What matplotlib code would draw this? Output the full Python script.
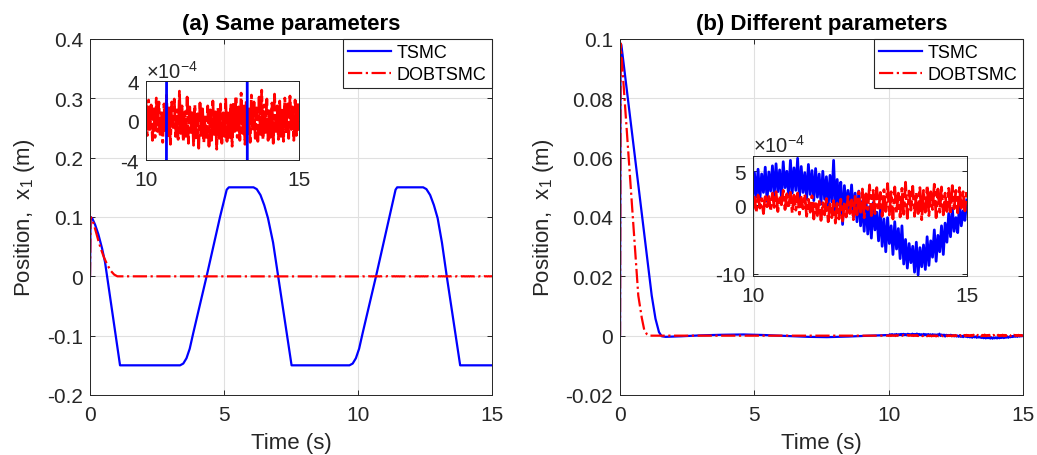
import matplotlib.pyplot as plt
import numpy as np

plt.rcParams['font.family'] = ['Liberation Sans', 'DejaVu Sans']
plt.rcParams['mathtext.fontset'] = 'custom'
plt.rcParams['mathtext.rm'] = 'Liberation Sans'
plt.rcParams['mathtext.it'] = 'Liberation Sans:italic'
plt.rcParams['mathtext.bf'] = 'Liberation Sans:bold'

# ---- (a) same parameters ----
t_tsmc_a = [0, 0.02, 0.08, 0.19, 0.31, 0.45, 0.56, 1.12,
            3.36, 3.48, 3.60, 3.72, 3.85, 4.35, 4.85, 5.10, 5.18,
            6.10, 6.22, 6.36, 6.50, 6.64, 6.83, 7.02, 7.52,
            9.68, 9.80, 9.92, 10.04, 10.17, 10.67, 11.17, 11.40, 11.46,
            12.43, 12.55, 12.69, 12.83, 12.97, 13.13, 13.31, 13.81, 15.0]
x_tsmc_a = [0, 0.100, 0.098, 0.087, 0.071, 0.047, 0.024, -0.150,
            -0.150, -0.147, -0.138, -0.122, -0.096, 0.0, 0.100, 0.146, 0.150,
            0.150, 0.147, 0.137, 0.120, 0.098, 0.057, 0.0, -0.150,
            -0.150, -0.147, -0.138, -0.122, -0.096, 0.0, 0.100, 0.146, 0.150,
            0.150, 0.147, 0.137, 0.120, 0.098, 0.057, 0.0, -0.150, -0.150]

t_dob_a = [0, 0.02, 0.08, 0.19, 0.30, 0.40, 0.52, 0.65, 0.78, 0.90, 1.02, 9.98]
x_dob_a = [0, 0.100, 0.097, 0.080, 0.062, 0.047, 0.032, 0.019, 0.009, 0.003, 0.0, 0.0]

# DOBTSMC residual between 10 s and 15 s (units of 1e-4 m)
dob_a_zoom = [1.8, -1.5, 2.1, -0.9, 1.6, -2.0, 1.2, -1.7, 2.3, -1.1, 1.9, -1.4,
              0.8, -2.2, 1.7, -1.0, 2.6, -1.8, 1.3, -2.4, 1.9, -0.7, 2.2, -1.6,
              1.1, -1.9, 3.0, -1.3, 1.5, -2.1, 0.9, -1.6, 2.4, -2.3, 1.4, -1.2,
              1.0, -2.5, 1.6, -1.9, 0.7, -2.8, 1.8, -1.5, 1.2, -2.2, 0.6, -1.7,
              1.5, -2.6, 1.1, -2.0, 2.0, -1.4, 0.9, -2.9, 1.3, -1.8, 1.7, -2.3,
              0.8, -1.6, 2.2, -2.1, 1.0, -1.9, 1.6, -2.6, 1.9, -1.1, 2.5, -1.7,
              1.4, -2.0, 2.8, -1.3, 1.7, -2.4, 2.1, -1.5, 1.2, -2.2, 2.6, -1.0,
              1.9, -1.8, 1.3, -2.1, 2.4, -1.4, 3.1, -1.9, 1.6, -1.2, 2.2, -2.0,
              1.0, -1.7, 1.8, -2.3, 2.7, -1.1, 1.5, -1.9, 2.0, -1.6, 1.2, -2.1,
              2.3, -1.3, 1.7, -1.8, 2.5, -0.9, 1.4, -2.0, 2.1, -1.5, 1.8, -1.2]

# ---- (b) different parameters ----
t_tsmc_b = [0, 0.02, 0.05, 1.18, 1.32, 1.45, 1.55, 1.70, 2.3, 3.0, 3.8, 4.6,
            5.4, 6.2, 7.0, 7.7, 8.5, 9.3, 9.95]
x_tsmc_b = [0, 0.0985, 0.098, 0.0135, 0.0057, 0.0012, -0.0002, -0.0004, -0.0002,
            0.0001, 0.0003, 0.0004, 0.0002, -0.0001, -0.0004, -0.0005, -0.0003,
            0.0, 0.0002]

t_dob_b = [0, 0.02, 0.06, 0.68, 0.81, 0.90, 1.00, 1.08, 9.98]
x_dob_b = [0, 0.0985, 0.094, 0.0135, 0.006, 0.002, 0.0005, 0.0, 0.0]

# residuals between 10 s and 15 s (units of 1e-4 m)
tsmc_b_zoom = [0.5, 4.8, 1.2, 5.3, 0.8, 4.6, 1.9, 5.6, 0.6, 4.9, 2.1, 5.8,
               1.4, 6.1, 2.0, 5.2, 1.1, 6.4, 2.6, 5.0, 1.3, 6.6, 1.8, 5.5,
               2.2, 6.9, 1.0, 5.7, 1.9, 4.8, 0.9, 6.0, 1.6, 5.1, 0.7, 5.4,
               1.2, 4.6, 0.2, 5.0, 0.9, 4.2, -0.2, 4.4, 0.5, 6.6, -0.8, 3.8,
               0.1, 3.4, -2.8, 2.9, -0.5, 2.2, -1.0, 3.0, -1.6, 1.8, -2.4, 2.1,
               -3.0, 0.6, -3.8, 1.0, -4.2, -0.2, -4.8, 0.4, -3.6, -1.0, -5.2, -0.6,
               -6.0, -2.0, -6.8, -1.8, -5.6, -3.0, -7.2, -2.4, -6.4, -3.4, -7.8, -3.0,
               -8.6, -5.0, -9.2, -5.6, -8.4, -6.0, -9.8, -5.4, -10.2, -6.2, -9.0, -5.8,
               -9.4, -4.6, -8.8, -5.2, -7.6, -3.6, -8.2, -4.4, -6.8, -3.0, -7.2, -2.6,
               -5.4, -1.2, -4.6, -0.4, -3.8, -1.8, -4.0, 0.2, -3.0, -0.8, -2.2, 0.8]
dob_b_zoom = [-0.6, 1.2, -1.0, 1.5, -0.4, 1.0, -1.2, 1.6, -0.2, 1.3, -0.8, 1.8,
              -0.3, 2.0, -0.9, 1.4, 0.1, 2.2, -0.6, 1.7, -0.4, 1.9, -1.1, 1.5,
              -0.7, 1.8, -1.3, 1.2, -0.5, 1.6, -1.6, 0.9, -1.0, 1.4, -2.0, 0.6,
              -1.5, 0.8, -2.2, 0.4, -1.4, 1.0, -2.4, 0.2, -1.8, 0.7, -2.6, 0.3,
              -2.0, 0.9, -2.3, 0.5, -1.7, 1.3, -1.2, 0.8, -2.1, 1.5, -1.4, 2.0,
              -1.0, 2.4, -1.8, 1.7, -0.6, 3.0, -1.5, 2.2, -1.2, 2.6, -0.8, 1.9,
              -1.6, 2.3, -0.9, 3.2, -1.4, 2.0, -2.0, 2.7, -1.1, 1.8, -1.7, 2.5,
              -1.3, 3.4, -1.9, 2.1, -0.7, 2.8, -1.6, 1.9, -1.2, 2.6, -2.1, 2.2,
              -1.0, 2.9, -1.5, 2.0, -0.6, 3.1, -1.8, 2.4, -1.0, 2.7, -1.4, 1.8,
              -0.9, 2.5, -1.3, 2.9, -0.5, 2.2, -1.1, 2.6, -0.4, 2.0, -0.8, 2.3]

t_zoom = np.linspace(10, 15, len(dob_a_zoom))

ta_t, ta_x = np.array(t_tsmc_a), np.array(x_tsmc_a)
da_t = np.concatenate([t_dob_a, t_zoom])
da_x = np.concatenate([x_dob_a, np.array(dob_a_zoom) * 1e-4])
tb_t = np.concatenate([t_tsmc_b, t_zoom])
tb_x = np.concatenate([x_tsmc_b, np.array(tsmc_b_zoom) * 1e-4])
db_t = np.concatenate([t_dob_b, t_zoom])
db_x = np.concatenate([x_dob_b, np.array(dob_b_zoom) * 1e-4])

BLUE = '#0000ff'
RED = '#ff0000'
DARK = '#262626'
LW = 1.6
ZLW = 2.0
ZDASH = (0, (9, 1.2, 2, 1.2))   # dense dash-dot inside the zoom boxes


def style(ax, size=15):
    ax.tick_params(direction='in', top=True, right=True, length=3.5, width=0.7,
                   colors=DARK, labelsize=size)
    ax.tick_params(axis='x', pad=7)
    ax.tick_params(axis='y', pad=5)
    for s in ax.spines.values():
        s.set_color(DARK)
        s.set_linewidth(0.7)


fig = plt.figure(figsize=(10.37, 4.56), dpi=100)

panels = [
    ([0.0868, 0.1316, 0.3877, 0.7807], '(a) Same parameters', ta_t, ta_x, da_t, da_x,
     (-0.2, 0.4), [-0.2, -0.1, 0, 0.1, 0.2, 0.3, 0.4],
     ['-0.2', '-0.1', '0', '0.1', '0.2', '0.3', '0.4']),
    ([0.5979, 0.1316, 0.3886, 0.7807], '(b) Different parameters', tb_t, tb_x, db_t, db_x,
     (-0.02, 0.1), [-0.02, 0, 0.02, 0.04, 0.06, 0.08, 0.1],
     ['-0.02', '0', '0.02', '0.04', '0.06', '0.08', '0.1']),
]

for rect, title, t1, x1, t2, x2, ylim, yt, ytl in panels:
    ax = fig.add_axes(rect)
    ax.plot(t1, x1, color=BLUE, lw=LW, label='TSMC')
    ax.plot(t2, x2, color=RED, lw=LW, ls='-.', label='DOBTSMC')
    ax.set_xlim(0, 15)
    ax.set_ylim(*ylim)
    ax.set_xticks([0, 5, 10, 15])
    ax.set_xticklabels(['0', '5', '10', '15'])
    ax.set_yticks(yt)
    ax.set_yticklabels(ytl)
    ax.grid(True, color='#e0e0e0', lw=0.8)
    ax.set_axisbelow(True)
    style(ax)
    ax.set_title(title, fontsize=16, fontweight='bold', pad=7, color='black')
    ax.set_xlabel('Time (s)', fontsize=16, color=DARK, labelpad=6)
    ax.set_ylabel(r'Position,  x$_1$ (m)', fontsize=16, color=DARK, labelpad=7)
    leg = ax.legend(loc='upper right', borderaxespad=0, fancybox=False, framealpha=1,
                    edgecolor=DARK, fontsize=13, handlelength=2.4, handletextpad=0.3,
                    borderpad=0.3, labelspacing=0.25)
    leg.get_frame().set_linewidth(0.8)

# inset (a)
ia = fig.add_axes([0.1408, 0.6469, 0.1475, 0.1726], facecolor='none')
ia.plot(t_zoom, np.array(dob_a_zoom) * 1e-4, color=RED, lw=ZLW, ls=ZDASH)
ia.plot(ta_t, ta_x, color=BLUE, lw=ZLW)
ia.set_xlim(10, 15)
ia.set_ylim(-4e-4, 4e-4)
ia.set_xticks([10, 15])
ia.set_xticklabels(['10', '15'])
ia.set_yticks([-4e-4, 0, 4e-4])
ia.set_yticklabels(['-4', '0', '4'])
style(ia)
ia.text(0, 1.0, r'$\times$10$^{-4}$', transform=ia.transAxes, ha='left', va='bottom',
        fontsize=14.5, color=DARK)

# inset (b)
ib = fig.add_axes([0.7258, 0.3919, 0.2064, 0.2632], facecolor='none')
ib.plot(t_zoom, np.array(tsmc_b_zoom) * 1e-4, color=BLUE, lw=ZLW)
ib.plot(t_zoom, np.array(dob_b_zoom) * 1e-4, color=RED, lw=ZLW, ls=ZDASH)
ib.set_xlim(10, 15)
ib.set_ylim(-10.4e-4, 7.2e-4)
ib.set_xticks([10, 15])
ib.set_xticklabels(['10', '15'])
ib.set_yticks([-10e-4, 0, 5e-4])
ib.set_yticklabels(['-10', '0', '5'])
ib.grid(True, color='#e0e0e0', lw=0.8)
ib.set_axisbelow(True)
style(ib)
ib.text(0, 1.0, r'$\times$10$^{-4}$', transform=ib.transAxes, ha='left', va='bottom',
        fontsize=14.5, color=DARK)

fig.savefig('out.png', dpi=100)
